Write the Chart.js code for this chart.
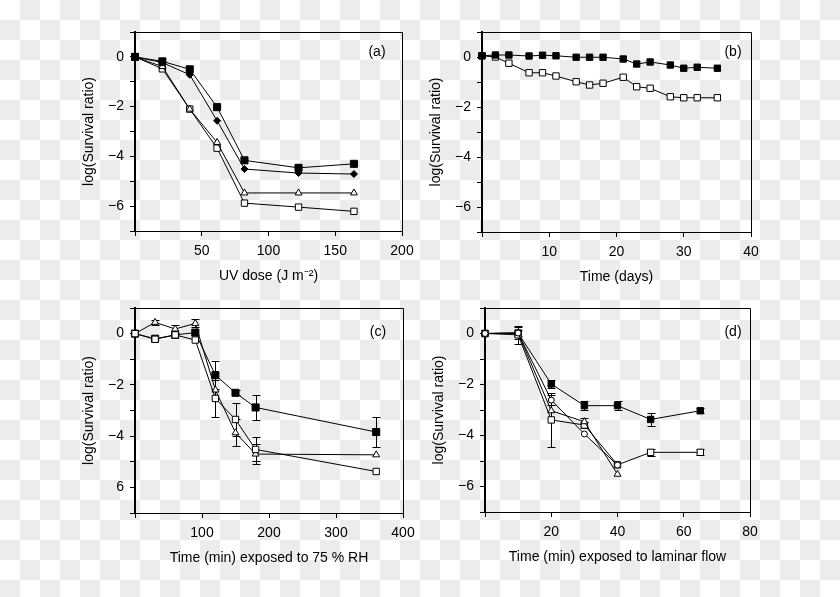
<!DOCTYPE html>
<html><head><meta charset="utf-8">
<script src="https://cdn.jsdelivr.net/npm/chart.js@4.4.0/dist/chart.umd.min.js"></script>
<style>
html,body{margin:0;padding:0;}
body{width:840px;height:597px;position:relative;overflow:hidden;background-color:#fff;
background-image:conic-gradient(#ececec 0 25%, #fff 0 50%, #ececec 0 75%, #fff 0);
background-size:40px 40px;}
canvas{position:absolute;}
</style></head><body>
<canvas id="ca"></canvas><canvas id="cb"></canvas><canvas id="cc"></canvas><canvas id="cd"></canvas>
<script>
// ---------- DATA ----------
// Panel (a): UV dose (J m-2)
const doseA = [0, 20.5, 41, 61.5, 82, 122.5, 164];
const aFilledSquare = [0, -0.18, -0.5, -2.02, -4.16, -4.46, -4.3];
const aFilledDiamond = [0, -0.23, -0.72, -2.57, -4.51, -4.67, -4.71];
const aOpenTriangle = [0, -0.39, -2.1, -3.44, -5.47, -5.47, -5.47];
const aOpenSquare = [0, -0.48, -2.1, -3.67, -5.88, -6.04, -6.21];

// Panel (b): time (days)
const daysB = [0, 2, 4, 7, 9, 11, 14, 16, 18, 21, 23, 25, 28, 30, 32, 35];
const bFilledSquare = [0.05, 0.08, 0.08, 0.04, 0.07, 0.05, -0.01, -0.01, -0.01, -0.08, -0.28, -0.2, -0.32, -0.45, -0.41, -0.45];
const bOpenSquare = [0.05, 0.0, -0.25, -0.63, -0.63, -0.76, -0.99, -1.12, -1.05, -0.81, -1.19, -1.25, -1.59, -1.63, -1.63, -1.63];

// Panel (c): time (min) exposed to 75 % RH
const minC = [0, 30, 60, 90, 120, 150, 180, 360];
const cFilledSquare = [0, -0.2, -0.05, 0.04, -1.62, -2.31, -2.88, -3.84];
const cFilledSquareErr = [0, 0, 0, 0, 0.56, 0.1, 0.49, 0.6];
const cOpenTriangle = [0, 0.44, 0.18, 0.4, -2.2, -3.87, -4.7, -4.73];
const cOpenTriangleErr = [0, 0.1, 0.16, 0.16, 0, 0.52, 0.39, 0];
const cOpenSquare = [0, -0.22, -0.05, -0.25, -2.53, -3.35, -4.52, -5.38];
const cOpenSquareErr = [0, 0, 0, 0, 0.72, 0.63, 0.47, 0];

// Panel (d): time (min) exposed to laminar flow
const minD = [0, 10, 20, 30, 40, 50, 65];
const dFilledSquare = [0, 0.02, -1.98, -2.83, -2.83, -3.37, -3.03];
const dFilledSquareErr = [0, 0.1, 0.15, 0.18, 0.18, 0.24, 0.1];
const dOpenSquare = [0, -0.05, -3.39, -3.59, -5.15, -4.66, -4.66];
const dOpenSquareErr = [0, 0.35, 1.05, 0.1, 0, 0.15, 0.12];
const minD2 = [0, 10, 20, 30, 40];
const dOpenTriangle = [0, 0.02, -3.03, -3.46, -5.52];
const dOpenTriangleErr = [0, 0.25, 0, 0.15, 0];
const dOpenCircle = [0, 0.02, -2.61, -3.94, -5.16];
const dOpenCircleErr = [0, 0, 0.2, 0, 0];

// Tick labels
const yTickValues = [0, -2, -4, -6];
const yTickLabels = ['0', '\u22122', '\u22124', '\u22126'];
const yTickLabelsC = ['0', '\u22122', '\u22124', '6'];
const xTicksA = [50, 100, 150, 200];
const xTicksB = [10, 20, 30, 40];
const xTicksC = [100, 200, 300, 400];
const xTicksD = [20, 40, 60, 80];

// ---------- RENDERING ----------
const FONT = "'Liberation Sans', Arial, Helvetica, sans-serif";
Chart.defaults.font.family = FONT;
Chart.defaults.font.size = 14;
Chart.defaults.color = '#000';

function pts(xs, ys) { return xs.map((x, i) => ({x: x, y: ys[i]})); }

function series(xs, ys, style, filled, radius, errs) {
  return {
    data: pts(xs, ys), errors: errs || null,
    showLine: true, borderColor: '#000', borderWidth: 1, tension: 0,
    pointStyle: style, pointRadius: radius, pointHoverRadius: radius,
    pointBackgroundColor: filled ? '#000' : '#fff', pointBorderColor: '#000',
    pointBorderWidth: 1, clip: false
  };
}

const framePlugin = {
  id: 'frame',
  beforeDatasetsDraw(chart) {
    const {ctx, chartArea: a} = chart;
    ctx.save();
    ctx.strokeStyle = '#000';
    ctx.lineWidth = 1;
    ctx.beginPath();
    ctx.moveTo(a.left, a.top + 0.5); ctx.lineTo(a.right + 0.5, a.top + 0.5);
    ctx.lineTo(a.right + 0.5, a.bottom);
    ctx.stroke();
    ctx.restore();
  }
};

const errorPlugin = {
  id: 'errbars',
  beforeDatasetsDraw(chart) {
    const {ctx} = chart;
    const xs = chart.scales.x, ys = chart.scales.y;
    ctx.save();
    ctx.strokeStyle = '#000';
    ctx.lineWidth = 1;
    chart.data.datasets.forEach(ds => {
      if (!ds.errors) return;
      ds.data.forEach((p, i) => {
        const e = ds.errors[i];
        if (!e) return;
        const px = Math.round(xs.getPixelForValue(p.x)) + 0.5;
        const y1 = Math.round(ys.getPixelForValue(p.y + e)) + 0.5;
        const y2 = Math.round(ys.getPixelForValue(p.y - e)) + 0.5;
        ctx.beginPath();
        ctx.moveTo(px, y1); ctx.lineTo(px, y2);
        ctx.moveTo(px - 4, y1); ctx.lineTo(px + 4, y1);
        ctx.moveTo(px - 4, y2); ctx.lineTo(px + 4, y2);
        ctx.stroke();
      });
    });
    ctx.restore();
  }
};

const labelPlugin = {
  id: 'panelLabel',
  afterDraw(chart, args, opts) {
    const {ctx, chartArea: a} = chart;
    ctx.save();
    ctx.font = '14px ' + FONT;
    ctx.fillStyle = '#000';
    ctx.textAlign = 'center';
    ctx.textBaseline = 'middle';
    ctx.fillText(opts.text, a.right - opts.dx, a.top + opts.dy);
    ctx.restore();
  }
};

function makePanel(id, box, cfg) {
  const PADL = 60, PADT = 15, PADR = 25, PADB = 60;
  const cv = document.getElementById(id);
  const w = box.r - box.l + PADL + PADR, h = box.b - box.t + PADT + PADB;
  cv.width = w; cv.height = h;
  cv.style.left = (box.l - PADL) + 'px';
  cv.style.top = (box.t - PADT) + 'px';
  cv.style.width = w + 'px'; cv.style.height = h + 'px';
  new Chart(cv, {
    type: 'scatter',
    data: {datasets: cfg.datasets},
    options: {
      responsive: false, animation: false, devicePixelRatio: 1,
      events: [],
      layout: {padding: {left: 0, top: PADT, right: PADR, bottom: 0}},
      plugins: {
        legend: {display: false}, tooltip: {enabled: false},
        panelLabel: {text: cfg.label, dx: cfg.labelDx, dy: cfg.labelDy}
      },
      scales: {
        x: {
          type: 'linear', min: cfg.xMin, max: cfg.xMax,
          afterFit: s => { s.height = PADB; },
          ticks: {stepSize: cfg.xStep, autoSkip: false, maxRotation: 0, padding: 7, color: '#000',
            callback: v => cfg.xTicks.includes(v) ? String(v) : ''},
          grid: {drawOnChartArea: false, drawTicks: true, tickLength: 5, tickColor: '#000', tickWidth: 1},
          border: {display: true, color: '#000', width: 1},
          title: {display: true, text: cfg.xTitle, color: '#000', font: {size: 14}, padding: {top: 0, bottom: 6}}
        },
        y: {
          type: 'linear', min: -7, max: 1,
          afterFit: s => { s.width = PADL; },
          ticks: {stepSize: 1, autoSkip: false, padding: 6, color: '#000',
            callback: v => { const k = yTickValues.indexOf(v); return k >= 0 ? cfg.yLabels[k] : ''; }},
          grid: {drawOnChartArea: false, drawTicks: true, tickLength: 5, tickColor: '#000', tickWidth: 1},
          border: {display: true, color: '#000', width: 2},
          title: {display: true, text: 'log(Survival ratio)', color: '#000', font: {size: 14}, padding: {top: 6, bottom: 0}}
        }
      }
    },
    plugins: [framePlugin, errorPlugin, labelPlugin]
  });
}

makePanel('ca', {l: 135, r: 402, t: 32, b: 231}, {
  xMin: 0, xMax: 200, xStep: 50, xTicks: xTicksA, yLabels: yTickLabels,
  xTitle: 'UV dose (J m\u207B\u00B2)', label: '(a)', labelDx: 25, labelDy: 20,
  datasets: [
    series(doseA, aFilledSquare, 'rect', true, 5),
    series(doseA, aFilledDiamond, 'rectRot', true, 3.5),
    series(doseA, aOpenTriangle, 'triangle', false, 4),
    series(doseA, aOpenSquare, 'rect', false, 4.5)
  ]
});

makePanel('cb', {l: 482, r: 751, t: 32, b: 232}, {
  xMin: 0, xMax: 40, xStep: 10, xTicks: xTicksB, yLabels: yTickLabels,
  xTitle: 'Time (days)', label: '(b)', labelDx: 18, labelDy: 20,
  datasets: [
    series(daysB, bFilledSquare, 'rect', true, 4.5),
    series(daysB, bOpenSquare, 'rect', false, 4.5)
  ]
});

makePanel('cc', {l: 135, r: 403, t: 308, b: 513}, {
  xMin: 0, xMax: 400, xStep: 100, xTicks: xTicksC, yLabels: yTickLabelsC,
  xTitle: 'Time (min) exposed to 75 % RH', label: '(c)', labelDx: 25, labelDy: 24,
  datasets: [
    series(minC, cOpenSquare, 'rect', false, 4.5, cOpenSquareErr),
    series(minC, cOpenTriangle, 'triangle', false, 4, cOpenTriangleErr),
    series(minC, cFilledSquare, 'rect', true, 5, cFilledSquareErr)
  ]
});

makePanel('cd', {l: 485, r: 750, t: 308, b: 512}, {
  xMin: 0, xMax: 80, xStep: 20, xTicks: xTicksD, yLabels: yTickLabels,
  xTitle: 'Time (min) exposed to laminar flow', label: '(d)', labelDx: 17, labelDy: 24,
  datasets: [
    series(minD2, dOpenCircle, 'circle', false, 3, dOpenCircleErr),
    series(minD2, dOpenTriangle, 'triangle', false, 4, dOpenTriangleErr),
    series(minD, dOpenSquare, 'rect', false, 4.5, dOpenSquareErr),
    series(minD, dFilledSquare, 'rect', true, 4.5, dFilledSquareErr)
  ]
});
</script>
</body></html>
